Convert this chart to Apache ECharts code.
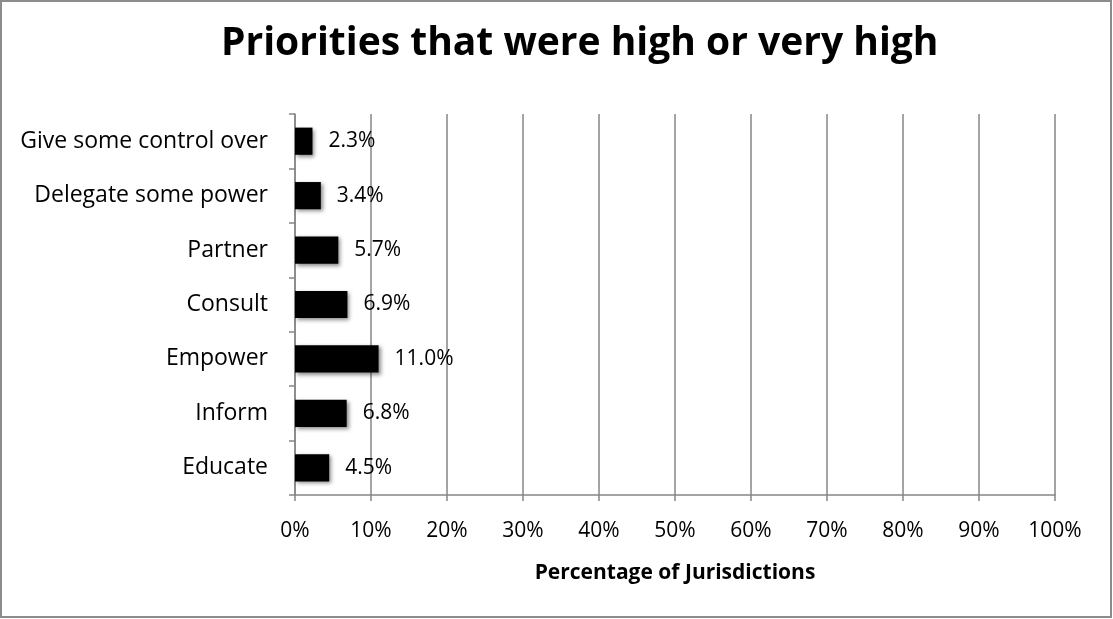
<!DOCTYPE html>
<html>
<head>
<meta charset="utf-8">
<script src="https://cdn.jsdelivr.net/npm/echarts@6/dist/echarts.min.js"></script>
<style>
  html, body { margin: 0; padding: 0; background: #fff; }
  #chart { width: 1113px; height: 619px; }
</style>
</head>
<body>
<div id="chart"></div>
<script>
// Categories are listed bottom-to-top, as the category axis draws them.
const categories = ['Educate', 'Inform', 'Empower', 'Consult', 'Partner', 'Delegate some power', 'Give some control over'];
const shares = [4.5, 6.8, 11.0, 6.9, 5.7, 3.4, 2.3];
const tickValues = [0, 10, 20, 30, 40, 50, 60, 70, 80, 90, 100];

const FONT = '"Open Sans", "Noto Sans", sans-serif';
const GRAY = '#868686';

const chart = echarts.init(document.getElementById('chart'), null, { renderer: 'canvas' });

chart.setOption({
  backgroundColor: '#ffffff',
  animation: false,
  title: {
    text: 'Priorities that were high or very high',
    left: 216,
    top: 19,
    textStyle: { fontFamily: FONT, fontWeight: 'bold', fontSize: 39, color: '#000' }
  },
  graphic: [{
    type: 'rect',
    shape: { x: 1, y: 1, width: 1110, height: 616 },
    style: { fill: 'none', stroke: '#8c8c8c', lineWidth: 2 },
    silent: true
  }],
  grid: { left: 295, right: 58, top: 114, bottom: 124 },
  xAxis: {
    type: 'value',
    min: tickValues[0],
    max: tickValues[tickValues.length - 1],
    interval: tickValues[1] - tickValues[0],
    name: 'Percentage of Jurisdictions',
    nameLocation: 'middle',
    nameGap: 68,
    nameTextStyle: { fontFamily: FONT, fontWeight: 'bold', fontSize: 21, color: '#000' },
    axisLine: { show: true, lineStyle: { color: GRAY, width: 1.5 } },
    axisTick: { show: true, length: 6, lineStyle: { color: GRAY, width: 1.5 } },
    axisLabel: { formatter: '{value}%', margin: 26, fontFamily: FONT, fontSize: 21, color: '#000' },
    splitLine: { show: true, lineStyle: { color: GRAY, width: 1.5 } }
  },
  yAxis: {
    type: 'category',
    data: categories,
    axisLine: { show: true, lineStyle: { color: GRAY, width: 1.5 } },
    axisTick: { show: true, length: 6, lineStyle: { color: GRAY, width: 1.5 } },
    axisLabel: { margin: 27, fontFamily: FONT, fontSize: 23, color: '#000' },
    splitLine: { show: false }
  },
  series: [{
    type: 'bar',
    data: shares,
    barCategoryGap: '50%',
    itemStyle: {
      color: '#000',
      shadowColor: 'rgba(0,0,0,0.45)',
      shadowBlur: 4,
      shadowOffsetX: 2,
      shadowOffsetY: 2
    },
    label: {
      show: true,
      position: 'right',
      distance: 16,
      formatter: p => p.value.toFixed(1) + '%',
      fontFamily: FONT,
      fontSize: 21,
      color: '#000'
    }
  }]
});
</script>
</body>
</html>
